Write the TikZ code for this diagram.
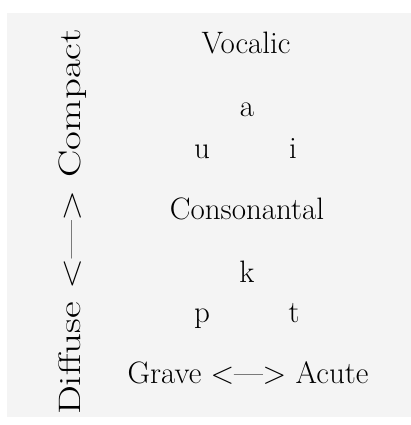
\documentclass[tikz,border=0pt]{standalone}
\usepackage{fontspec}

\definecolor{paper}{HTML}{F4F4F4}
\tikzstyle{feat} = [anchor=base, inner sep=0pt, font=\fontsize{31}{37}\selectfont\addfontfeatures{FakeBold=2.5}]
\tikzstyle{phon} = [feat]

\begin{document}
\begin{tikzpicture}[x=1pt, y=-1pt]
\useasboundingbox (0,0) rectangle (411,425);
\fill[paper] (7,13) rectangle (411,417);
% vowels
\node[feat] (voc) at (246,54) {Vocalic};
\node[phon] (a) at (247,117) {a};
\node[phon] (u) at (202,158) {u};
\node[phon] (i) at (293,158) {i};
% consonants
\node[feat] (cons) at (247,219) {Consonantal};
\node[phon] (k) at (247,282) {k};
\node[phon] (p) at (202,322) {p};
\node[phon] (t) at (294,322) {t};
% axes
\node[feat] (grac) at (248,383) {Grave <—> Acute};
\node[feat, rotate=90, xscale=1.32] (dico) at (80,222) {Diffuse <—> Compact};
\end{tikzpicture}
\end{document}
